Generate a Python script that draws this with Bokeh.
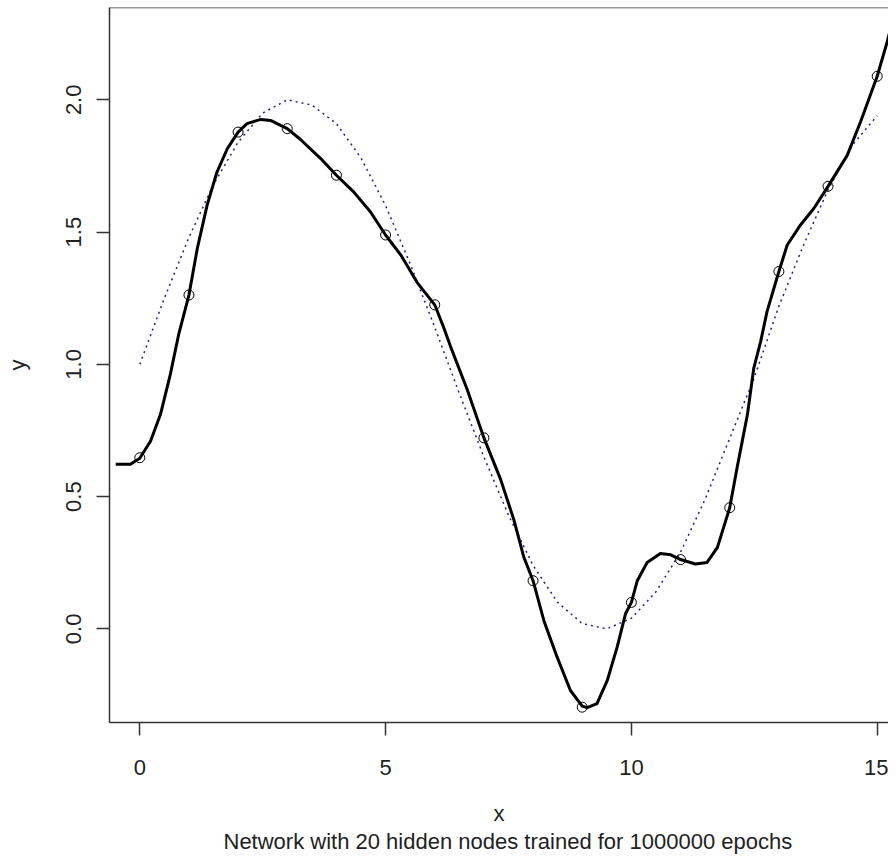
from bokeh.plotting import figure
from bokeh.models import FixedTicker, PrintfTickFormatter, Span, Range1d, Title
from bokeh.embed import file_html
from bokeh.resources import INLINE

# training points
x_pts = list(range(16))
y_pts = [0.647, 1.262, 1.878, 1.891, 1.715, 1.489, 1.225, 0.722,
         0.182, -0.296, 0.100, 0.262, 0.458, 1.351, 1.673, 2.089]

# network output curve
net_x = [-0.49, -0.19, 0.0, 0.22, 0.42, 0.62, 0.79, 1.0, 1.17, 1.37, 1.57, 1.78,
         2.0, 2.18, 2.46, 2.66, 3.0, 3.27, 3.68, 4.0, 4.35, 4.69, 5.0, 5.31,
         5.64, 6.0, 6.18, 6.32, 6.66, 7.0, 7.34, 7.61, 7.81, 8.0, 8.22, 8.49, 8.76,
         9.0, 9.10, 9.30, 9.51, 9.71, 9.88, 10.0, 10.12, 10.32, 10.59, 10.80,
         11.0, 11.30, 11.54, 11.75, 12.0, 12.15, 12.36, 12.49, 12.63, 12.76,
         13.0, 13.17, 13.44, 13.71, 14.0, 14.39, 14.66, 15.0, 15.20, 15.37, 15.5]
net_y = [0.622, 0.622, 0.645, 0.710, 0.810, 0.961, 1.112, 1.262, 1.438, 1.602,
         1.727, 1.815, 1.878, 1.910, 1.926, 1.922, 1.891, 1.850, 1.778, 1.715,
         1.652, 1.577, 1.489, 1.413, 1.310, 1.225, 1.140, 1.068, 0.905, 0.722, 0.565,
         0.412, 0.272, 0.182, 0.031, -0.107, -0.233, -0.292, -0.298, -0.283,
         -0.195, -0.069, 0.057, 0.100, 0.182, 0.251, 0.285, 0.280, 0.262, 0.245,
         0.251, 0.308, 0.458, 0.609, 0.810, 0.986, 1.087, 1.200, 1.351, 1.451,
         1.527, 1.589, 1.673, 1.790, 1.916, 2.089, 2.217, 2.337, 2.44]

# target function (dotted)
true_x = [0, 0.5, 1.0, 1.5, 2.0, 2.5, 3.0, 3.5, 4.0, 4.5, 5.0, 5.5, 6.0, 6.5,
          7.0, 7.5, 8.0, 8.5, 9.0, 9.5, 10.0, 10.5, 11.0, 11.5, 12.0, 12.5,
          13.0, 13.5, 14.0, 14.5, 15.0]
true_y = [1.0, 1.25, 1.48, 1.68, 1.84, 1.95, 2.0, 1.98, 1.91, 1.78, 1.60, 1.38,
          1.14, 0.89, 0.65, 0.43, 0.24, 0.10, 0.02, 0.0, 0.04, 0.14, 0.29, 0.49,
          0.72, 0.95, 1.22, 1.45, 1.66, 1.83, 1.94]

x_ticks = [0, 5, 10, 15]
y_ticks = [0.0, 0.5, 1.0, 1.5, 2.0]
x_title = "x"
y_title = "y"
subtitle = "Network with 20 hidden nodes trained for 1000000 epochs"

FONT = "Liberation Sans"
AX = "#333333"
TXT = "#222222"
FS = "22px"

p = figure(width=888, height=856, output_backend="svg", toolbar_location=None,
           x_range=Range1d(-0.616, 15.23), y_range=Range1d(-0.354, 2.349),
           min_border_left=109, min_border_right=0, min_border_top=7,
           min_border_bottom=134)
p.outline_line_color = None
p.xgrid.visible = False
p.ygrid.visible = False
p.background_fill_color = "white"
p.border_fill_color = "white"

for ax in (p.xaxis[0], p.yaxis[0]):
    ax.axis_line_color = AX
    ax.axis_line_width = 1.5
    ax.major_tick_line_color = AX
    ax.major_tick_line_width = 1.5
    ax.major_tick_out = 13
    ax.major_tick_in = 0
    ax.minor_tick_line_color = None
    ax.major_label_text_font = FONT
    ax.major_label_text_font_size = FS
    ax.major_label_text_color = TXT
    ax.axis_label_text_font = FONT
    ax.axis_label_text_font_size = FS
    ax.axis_label_text_font_style = "normal"
    ax.axis_label_text_color = TXT

p.xaxis[0].ticker = FixedTicker(ticks=x_ticks)
p.xaxis[0].formatter = PrintfTickFormatter(format="%d")
p.xaxis[0].major_label_standoff = 24
p.xaxis[0].axis_label = x_title
p.xaxis[0].axis_label_standoff = 23
p.yaxis[0].ticker = FixedTicker(ticks=y_ticks)
p.yaxis[0].formatter = PrintfTickFormatter(format="%.1f")
p.yaxis[0].major_label_orientation = "vertical"
p.yaxis[0].major_label_standoff = 15
p.yaxis[0].axis_label = y_title
p.yaxis[0].axis_label_standoff = 34

# top border of the box
p.add_layout(Span(location=2.349, dimension="width", line_color=AX, line_width=1.5))

# target function
p.line(true_x, true_y, line_color="#1f1f8f", line_width=1.5, line_dash="2 4")
# network curve
p.line(net_x, net_y, line_color="black", line_width=3, line_join="round")
# points
p.scatter(x_pts, y_pts, marker="circle", size=10, fill_color=None,
          line_color="black", line_width=1)

# subtitle below the axis title
p.add_layout(Title(text=subtitle, align="left", offset=114, text_font=FONT,
                   text_font_size=FS, text_font_style="normal", text_color=TXT,
                   vertical_align="top", standoff=0), "below")

open("out.html", "w").write(file_html(p, INLINE))
